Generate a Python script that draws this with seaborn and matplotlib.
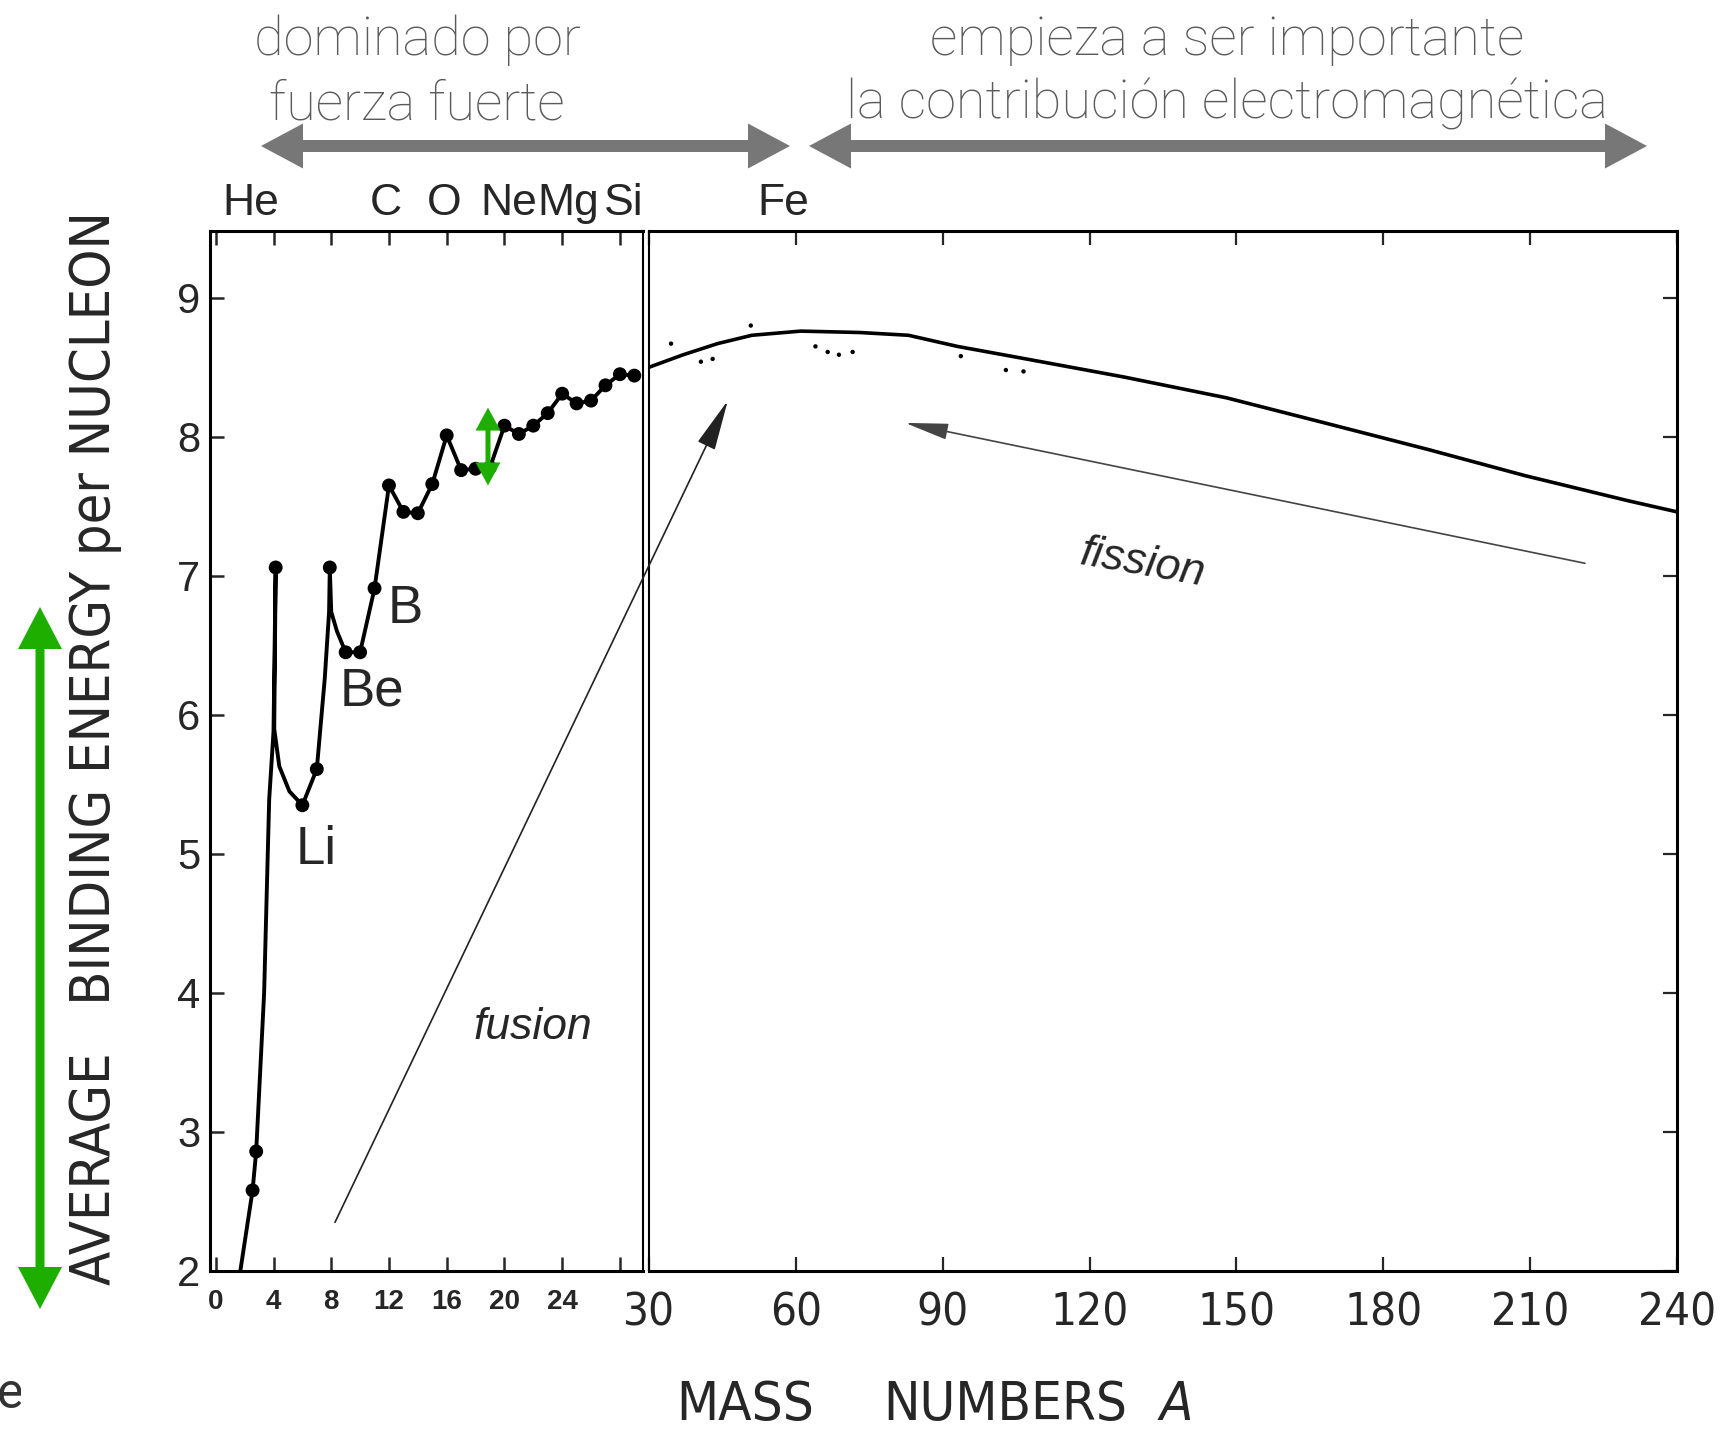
#!/usr/bin/env python3
"""
plot.py
Binding energy per nucleon against mass number (scanned textbook figure,
broken x axis: 0..30 expanded, then 30..240), with the slide annotations.
Usage:
  python3 plot.py
"""
import numpy as np
import matplotlib
matplotlib.use("Agg")
import matplotlib.pyplot as plt
import matplotlib.transforms as mtransforms
from matplotlib import font_manager
from matplotlib.font_manager import FontProperties
from matplotlib.patches import Polygon
import seaborn as sns

# ---- values ----
# light nuclei: the dots on the expanded part of the axis
light_A = [2.55, 2.8, 4.15, 6, 7, 7.9, 9, 10, 11, 12, 13, 14, 15, 16, 17, 18, 19,
           20, 21, 22, 23, 24, 25, 26, 27, 28, 29]
light_B = [2.58, 2.86, 7.06, 5.35, 5.61, 7.06, 6.45, 6.45, 6.91, 7.65, 7.46, 7.45,
           7.66, 8.01, 7.76, 7.77, 7.78, 8.08, 8.02, 8.08, 8.17, 8.31, 8.24, 8.26,
           8.37, 8.45, 8.44]
# the drawn line through them, including its bends between the dots
line_A = [1.7, 2.55, 2.8, 3.35, 3.7, 4.0, 4.15, 4.05, 4.4, 5.1,
          6, 7, 7.55, 7.85, 7.9, 8.0, 8.4,
          9, 10, 11, 12, 13, 14, 15, 16, 17, 18, 19, 20, 21, 22, 23, 24, 25, 26,
          27, 28, 29]
line_B = [2.0, 2.58, 2.86, 4.0, 5.39, 5.88, 7.06, 5.9, 5.63, 5.45,
          5.35, 5.61, 6.26, 6.74, 7.06, 6.74, 6.6,
          6.45, 6.45, 6.91, 7.65, 7.46, 7.45, 7.66, 8.01, 7.76, 7.77, 7.78, 8.08,
          8.02, 8.08, 8.17, 8.31, 8.24, 8.26, 8.37, 8.45, 8.44]
# heavier nuclei on the compressed part (30..240)
heavy_A = [30, 37, 44, 51, 61, 73, 83, 93, 107, 127, 148, 168, 189, 209, 230, 240]
heavy_B = [8.50, 8.59, 8.67, 8.73, 8.76, 8.75, 8.73, 8.65, 8.56, 8.43, 8.28, 8.10,
           7.91, 7.72, 7.54, 7.46]
# scattered isotopes just off the curve
iso_A = [34.5, 40.6, 43, 50.8, 64, 66.5, 68.8, 71.6, 93.7, 102.9, 106.5]
iso_B = [8.67, 8.54, 8.56, 8.80, 8.65, 8.61, 8.59, 8.61, 8.58, 8.48, 8.47]

left_ticks = [0, 4, 8, 12, 16, 20, 24, 28]
left_ticklabels = ["0", "4", "8", "12", "16", "20", "24", ""]
right_ticks = [30, 60, 90, 120, 150, 180, 210, 240]
y_ticks = [2, 3, 4, 5, 6, 7, 8, 9]

GREEN = "#1eae00"
GREY = "#777777"

sns.set_style("ticks")
plt.rcParams["font.family"] = ["Liberation Sans", "DejaVu Sans"]

names = {f.name for f in font_manager.fontManager.ttflist}
HAVE_NARROW = "Liberation Sans Narrow" in names


def narrow(size, style="normal"):
    # the scan uses a condensed face; without one, shrink a normal face a bit
    if HAVE_NARROW:
        return FontProperties(family="Liberation Sans Narrow", size=size, style=style)
    return FontProperties(family="DejaVu Sans", stretch="condensed",
                          size=size * 0.91, style=style)


def plain(size, weight="normal", style="normal"):
    return FontProperties(family="Liberation Sans", size=size, weight=weight, style=style)


W, H, DPI = 1725, 1431, 100
fig = plt.figure(figsize=(W / DPI, H / DPI), dpi=DPI)
# pixel coordinates measured from the top left, like the reference image
PX = mtransforms.Affine2D().scale(1 / DPI, -1 / DPI).translate(0, H / DPI) + fig.dpi_scale_trans


def box(x0, x1, y_top, y_bot):
    return [x0 / W, 1 - y_bot / H, (x1 - x0) / W, (y_bot - y_top) / H]


def double_arrow(p0, p1, shaft, head_w, head_len, color, transform):
    p0 = np.asarray(p0, float)
    p1 = np.asarray(p1, float)
    u = (p1 - p0) / np.hypot(*(p1 - p0))
    n = np.array([-u[1], u[0]])
    a = p0 + u * head_len
    b = p1 - u * head_len
    pts = [p0, a + n * head_w / 2, a + n * shaft / 2, b + n * shaft / 2,
           b + n * head_w / 2, p1, b - n * head_w / 2, b - n * shaft / 2,
           a - n * shaft / 2, a - n * head_w / 2]
    fig.add_artist(Polygon(pts, closed=True, facecolor=color, edgecolor="none",
                           transform=transform, zorder=10))


ax_l = fig.add_axes(box(210, 643, 231, 1271))
ax_r = fig.add_axes(box(649, 1677, 231, 1271))

# curves
sns.lineplot(x=line_A, y=line_B, ax=ax_l, sort=False, estimator=None,
             color="black", lw=2.8)
sns.scatterplot(x=light_A, y=light_B, ax=ax_l, s=100, color="black",
                edgecolor="none", zorder=3)
sns.lineplot(x=heavy_A, y=heavy_B, ax=ax_r, sort=False, estimator=None,
             color="black", lw=2.6)
sns.scatterplot(x=iso_A, y=iso_B, ax=ax_r, s=10, color="black",
                edgecolor="none", zorder=3)

for ax in (ax_l, ax_r):
    ax.set_ylim(2, 9.48)
    ax.set_yticks(y_ticks)
    ax.set_xlabel("")
    ax.set_ylabel("")
    for s in ax.spines.values():
        s.set_linewidth(2.2)
        s.set_color("black")

ax_l.set_xlim(-0.4, 29.6)
ax_l.set_xticks(left_ticks)
ax_l.set_xticklabels(left_ticklabels)
ax_l.spines["right"].set_linewidth(1.5)
ax_l.tick_params(axis="x", direction="in", top=True, bottom=True, length=10,
                 width=1.8, pad=13)
ax_l.tick_params(axis="y", direction="in", left=True, right=False, length=10,
                 width=1.8, pad=7)
for t in ax_l.get_xticklabels():
    t.set_fontproperties(plain(20, weight="bold"))
for t in ax_l.get_yticklabels():
    t.set_fontproperties(plain(30))

ax_r.set_xlim(30, 240)
ax_r.set_xticks(right_ticks)
ax_r.set_xticklabels([str(v) for v in right_ticks])
ax_r.spines["left"].set_linewidth(1.5)
ax_r.tick_params(axis="x", direction="in", top=True, bottom=True, length=10,
                 width=1.6, pad=15)
ax_r.tick_params(axis="y", direction="in", left=False, right=True,
                 labelleft=False, length=10, width=1.6)
for t in ax_r.get_xticklabels():
    t.set_fontproperties(narrow(36))

# element names along the top, above the frame
for lab, a, ax in [("He", 2.4, ax_l), ("C", 11.8, ax_l), ("O", 15.8, ax_l),
                   ("Ne", 20.3, ax_l), ("Mg", 24.4, ax_l), ("Si", 28.3, ax_l),
                   ("Fe", 57.5, ax_r)]:
    ax.text(a, 215, lab,
            transform=mtransforms.blended_transform_factory(ax.transData, PX),
            ha="center", va="baseline", fontproperties=plain(32))

for lab, a, b in [("Li", 6.94, 5.03), ("Be", 10.82, 6.17), ("B", 13.11, 6.76)]:
    ax_l.text(a, b, lab, ha="center", va="center", fontproperties=plain(38))

ax_l.text(21.98, 3.75, "fusion", ha="center", va="center",
          fontproperties=plain(32, style="italic"))
ax_r.text(130.9, 7.09, "fission", ha="center", va="center", rotation=-10,
          fontproperties=plain(32, style="italic"))

# fusion / fission arrows
ax_r.annotate("", xy=(46.1, 8.26), xycoords=ax_r.transData,
              xytext=(8.26, 2.35), textcoords=ax_l.transData,
              arrowprops=dict(arrowstyle="-|>,head_length=32,head_width=6",
                              mutation_scale=1, color="#222222", lw=1.2,
                              shrinkA=0, shrinkB=0))
ax_r.annotate("", xy=(82.3, 8.10), xytext=(221.2, 7.09),
              arrowprops=dict(arrowstyle="-|>,head_length=27,head_width=5",
                              mutation_scale=1, color="#444444", lw=1.2,
                              shrinkA=0, shrinkB=0))

# axis titles
fig.text(95, 748, "AVERAGE   BINDING ENERGY per NUCLEON", transform=PX,
         rotation=90, ha="center", va="center", fontproperties=narrow(44))
fig.text(745, 1405, "MASS", transform=PX, ha="center", va="center",
         fontproperties=narrow(43))
fig.text(1005, 1405, "NUMBERS", transform=PX, ha="center", va="center",
         fontproperties=narrow(43))
fig.text(1176, 1405, "A", transform=PX, ha="center", va="center",
         fontproperties=narrow(43, style="italic"))

# slide annotations (Spanish captions, grey ranges, green arrows)
cap = FontProperties(family=["Roboto", "DejaVu Sans"], size=39, weight="light")
for txt, x, y in [("dominado por", 417, 55), ("fuerza fuerte", 417, 119),
                  ("empieza a ser importante", 1227, 55),
                  ("la contribución electromagnética", 1227, 119)]:
    fig.text(x, y, txt, transform=PX, ha="center", va="baseline",
             color="#5a5a5a", fontproperties=cap)

double_arrow((261, 146), (790, 146), 12, 45, 42, GREY, PX)
double_arrow((809, 146), (1647, 146), 12, 45, 42, GREY, PX)
double_arrow((40, 607), (40, 1309), 9, 44, 42, GREEN, PX)

p_top = ax_l.transData.transform((18.86, 8.21))
p_bot = ax_l.transData.transform((18.86, 7.65))
pix = PX.inverted()
double_arrow(pix.transform(p_top), pix.transform(p_bot), 5, 25, 23, GREEN, PX)

# leftover letters from the slide, cut by the picture edge
t = fig.text(-3, 1408, "ea", transform=PX, ha="left", va="baseline",
             color="#333333",
             fontproperties=FontProperties(family=["Roboto", "DejaVu Sans"], size=36))
t.set_clip_box(mtransforms.Bbox.from_extents(0, 0, 21, H))
t.set_clip_on(True)

fig.savefig("out.png", dpi=DPI)
